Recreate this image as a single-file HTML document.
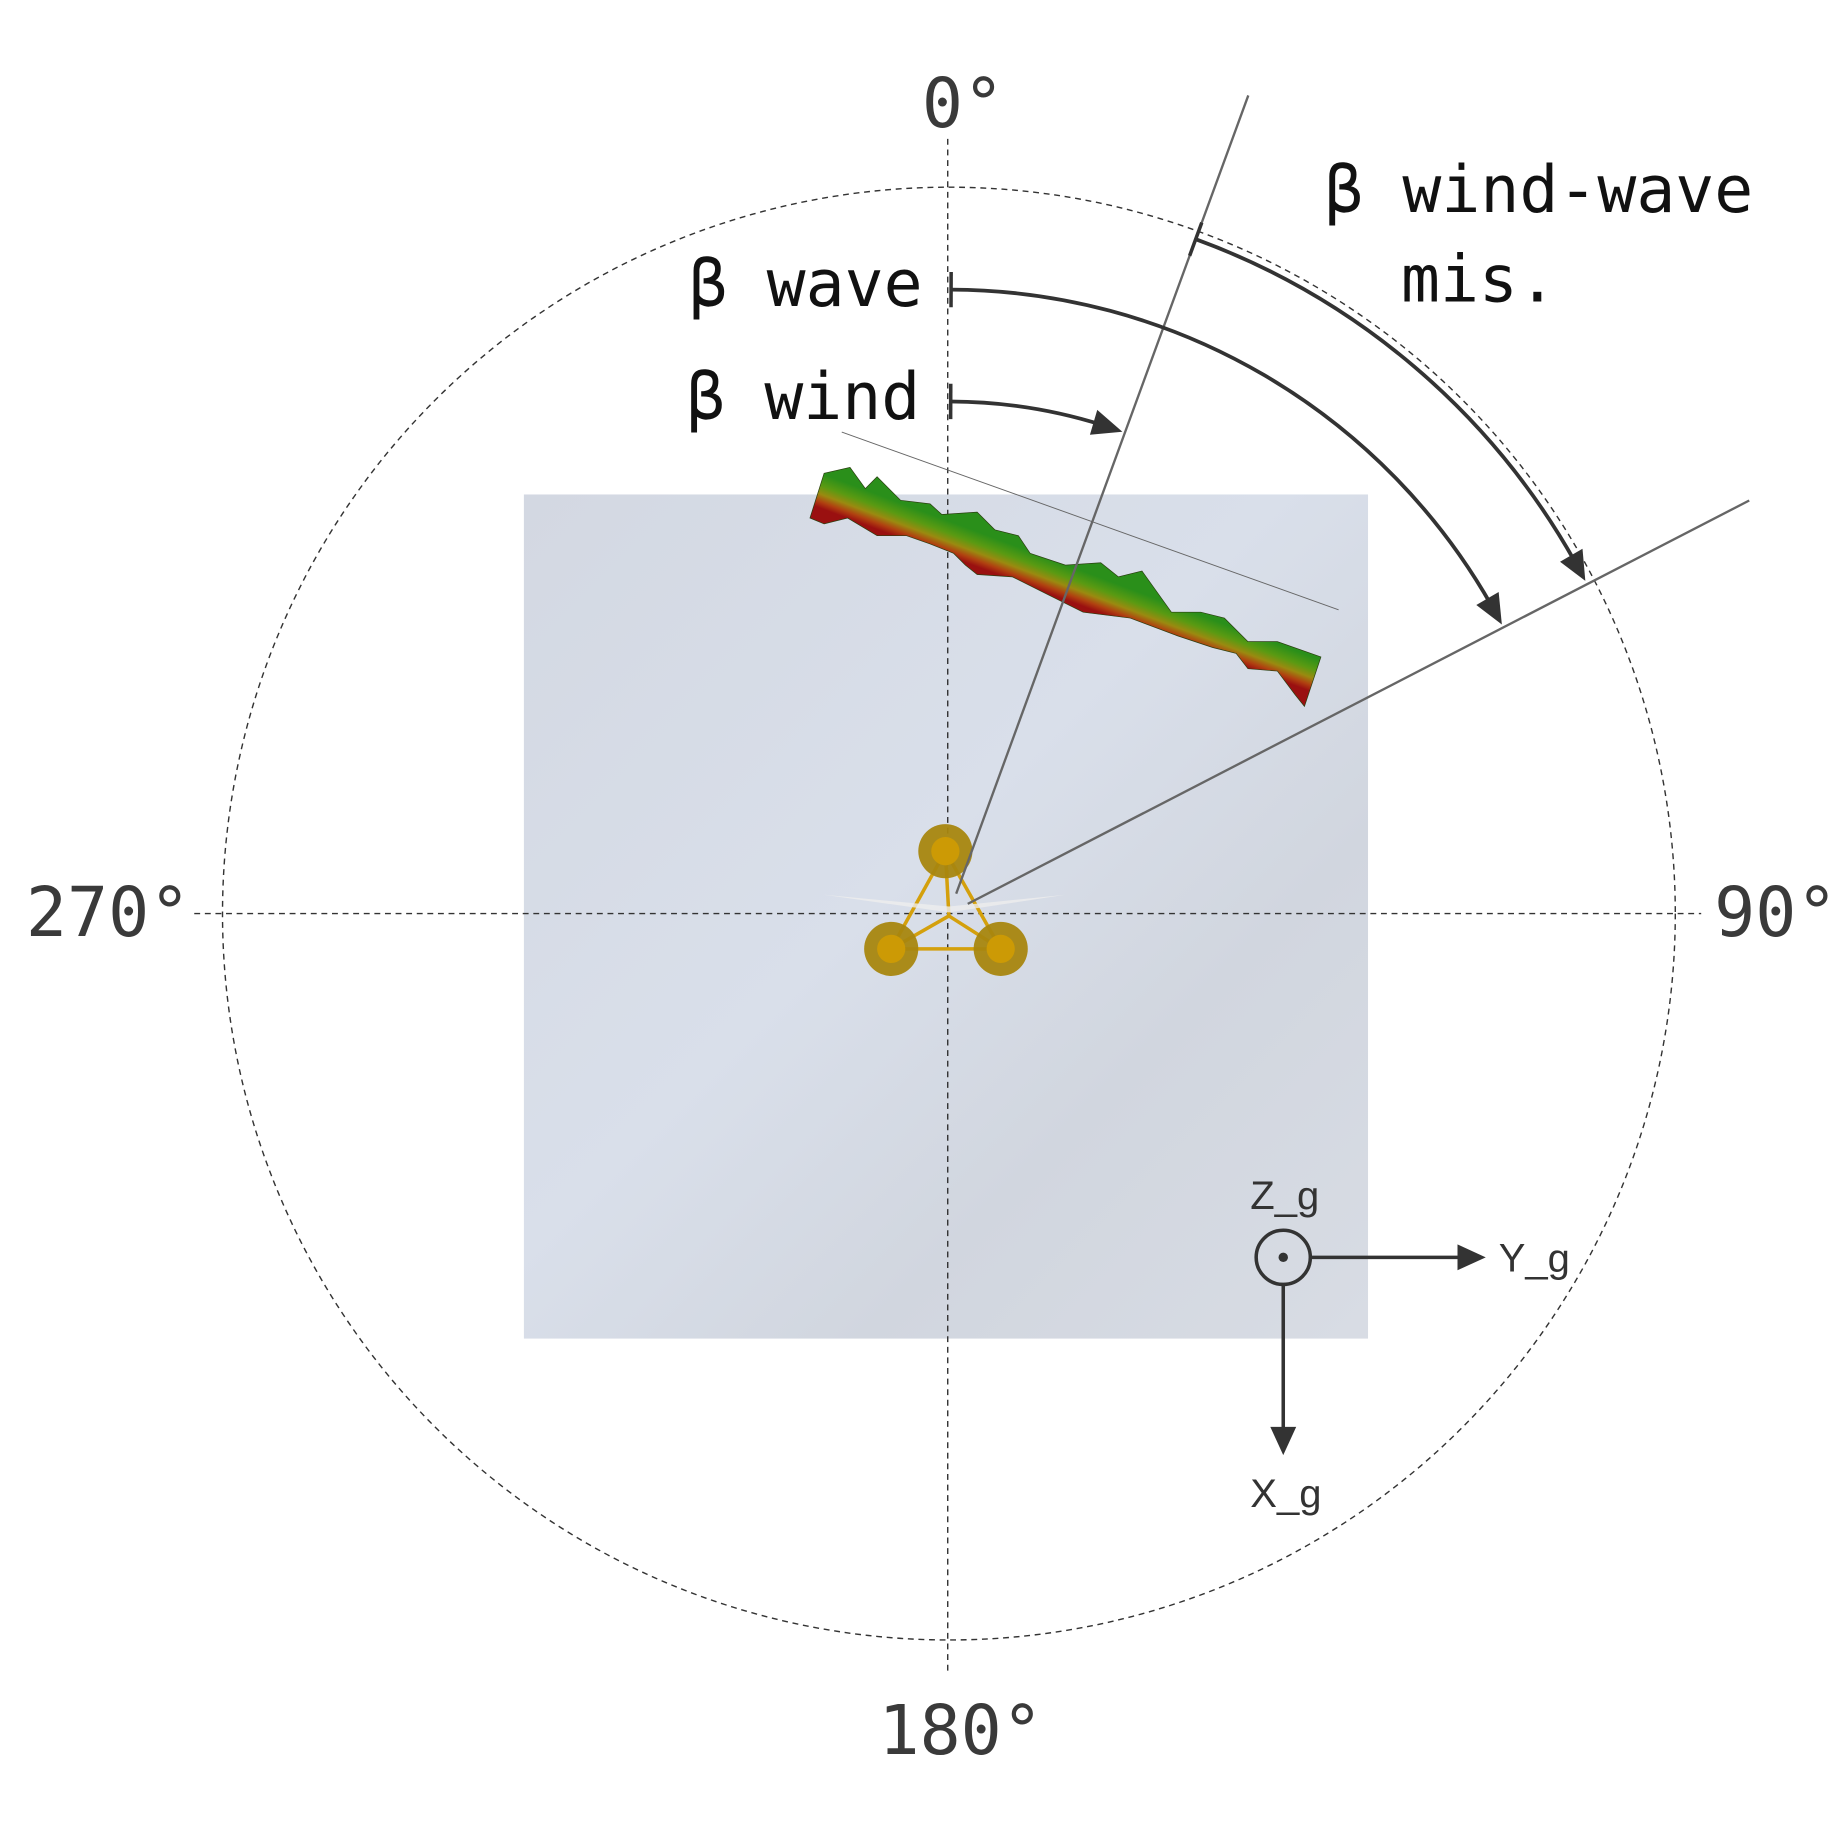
<!DOCTYPE html>
<html><head><meta charset="utf-8"><style>
html,body{margin:0;padding:0;background:#fff;}
svg{display:block;}
.lbl{font-family:"DejaVu Sans Mono","Liberation Mono",monospace;fill:#3a3a3a;font-size:58px;}
.blk{font-family:"DejaVu Sans Mono","Liberation Mono",monospace;fill:#111;font-size:55px;}
.ax{font-family:"Liberation Sans","DejaVu Sans",sans-serif;fill:#333;font-size:34px;}
</style></head><body>
<svg id="chart" width="1846" height="1846" viewBox="0 0 1568 1568" xmlns="http://www.w3.org/2000/svg">
<defs>
<linearGradient id="sea" x1="0" y1="0" x2="1" y2="1">
<stop offset="0" stop-color="#d3d8e2"/><stop offset="0.45" stop-color="#d9dfea"/><stop offset="0.7" stop-color="#d1d6df"/><stop offset="1" stop-color="#d8dce4"/>
</linearGradient>
<linearGradient id="mesh" gradientUnits="userSpaceOnUse" x1="700" y1="404" x2="700" y2="432" gradientTransform="rotate(20.5 700 420)">
<stop offset="0" stop-color="#2a8f1a"/><stop offset="0.35" stop-color="#5a9a12"/><stop offset="0.6" stop-color="#9a8a10"/><stop offset="0.82" stop-color="#b04010"/><stop offset="1" stop-color="#9a1010"/>
</linearGradient>
</defs>
<rect x="445" y="420" width="717" height="717" fill="url(#sea)"/>
<g id="grid"></g>
<polygon fill="url(#mesh)" stroke="#2a4010" stroke-width="0.6" points="688,440 700,402 722,397 735,415 745,405 765,425 790,428 800,437 830,435 845,450 865,455 875,470 905,480 935,478 950,490 970,485 995,520 1020,520 1040,525 1060,545 1085,545 1122,558 1108,600 1100,590 1085,570 1060,568 1050,555 1030,550 1000,540 960,525 920,520 890,505 860,490 830,488 820,480 810,470 790,462 770,455 745,455 720,440 700,445"/>
<line x1="715" y1="367" x2="1137" y2="518" stroke="#666" stroke-width="0.8"/>
<g id="turbine">
<g stroke="#d4a00c" stroke-width="3" fill="none">
<line x1="803" y1="723" x2="757" y2="806"/><line x1="803" y1="723" x2="850" y2="806"/><line x1="757" y1="806" x2="850" y2="806"/>
<line x1="757" y1="806" x2="806" y2="778"/><line x1="850" y1="806" x2="806" y2="778"/><line x1="803" y1="723" x2="806" y2="778"/>
</g>
<circle cx="803" cy="723" r="23" fill="#a8860f" opacity="0.95"/><circle cx="803" cy="723" r="12" fill="#cc9a05"/>
<circle cx="757" cy="806" r="23" fill="#a8860f" opacity="0.95"/><circle cx="757" cy="806" r="12" fill="#cc9a05"/>
<circle cx="850" cy="806" r="23" fill="#a8860f" opacity="0.95"/><circle cx="850" cy="806" r="12" fill="#cc9a05"/>
<polygon points="700,760 806,770 905,760 806,775" fill="#eeeeee" opacity="0.8"/>
</g>
<g id="dirs"></g>
<text class="lbl" x="818" y="108" text-anchor="middle">0°</text>
<text class="lbl" x="1456" y="795">90°</text>
<text class="lbl" x="816" y="1490" text-anchor="middle">180°</text>
<text class="lbl" x="22" y="795">270°</text>
<text class="blk" x="585" y="260">β wave</text>
<text class="blk" x="583" y="356">β wind</text>
<text class="blk" x="1125" y="180">β wind-wave</text>
<text class="blk" x="1190" y="256">mis.</text>
<g stroke="#333" stroke-width="3" fill="#333">
<circle cx="1090" cy="1068" r="23" fill="none"/><circle cx="1090" cy="1068" r="4" stroke="none"/>
<line x1="1113" y1="1068" x2="1240" y2="1068"/><polygon points="1262,1068 1238,1057 1238,1079" stroke="none"/>
<line x1="1090" y1="1091" x2="1090" y2="1213"/><polygon points="1090,1236 1079,1212 1101,1212" stroke="none"/>
</g>
<text class="ax" x="1062" y="1027">Z_g</text>
<text class="ax" x="1273" y="1080">Y_g</text>
<text class="ax" x="1062" y="1280">X_g</text>
</svg>
<script>
const windDirDeg = [20.1];
const waveDirDeg = [62.7];
const cx = 806, cy = 776, R = 617;
const NS = 'http://www.w3.org/2000/svg';
function pt(deg, r){const a = deg*Math.PI/180; return [cx + r*Math.sin(a), cy - r*Math.cos(a)];}
function mk(tag, attrs, parent){const e=document.createElementNS(NS,tag);for(const k in attrs)e.setAttribute(k,attrs[k]);parent.appendChild(e);return e;}
const grid = document.getElementById('grid');
let c = mk('circle',{cx:cx,cy:cy,r:R,fill:'none',stroke:'#333','stroke-width':1.2,'stroke-dasharray':'5,4'},grid);


let v = mk('line',{x1:805,y1:118,x2:805,y2:1420,stroke:'#333','stroke-width':1.2,'stroke-dasharray':'5,4'},grid);


let h = mk('line',{x1:165,y1:776,x2:1445,y2:776,stroke:'#333','stroke-width':1.2,'stroke-dasharray':'5,4'},grid);


const dirs = document.getElementById('dirs');
function dirLine(deg, len, name){const p0=pt(deg,18), p1=pt(deg,len);
 const l=mk('line',{x1:p0[0],y1:p0[1],x2:p1[0],y2:p1[1],stroke:'#666','stroke-width':2},dirs);
 
 }
dirLine(windDirDeg[0], 740, 'wind-direction-line');
dirLine(waveDirDeg[0], 765, 'wave-direction-line');
function arc(a0, a1, r, name){
 const g = mk('g',{},dirs);
 
 
 const endA = a1 - 1.5*180/Math.PI*14/r;
 const p0=pt(a0,r), p1=pt(endA,r);
 mk('path',{d:`M${p0[0]},${p0[1]} A${r},${r} 0 0 1 ${p1[0]},${p1[1]}`,fill:'none',stroke:'#333','stroke-width':3.2},g);
 const t0=pt(a0,r-15), t1=pt(a0,r+15);
 mk('line',{x1:t0[0],y1:t0[1],x2:t1[0],y2:t1[1],stroke:'#333','stroke-width':3},g);
 const tip=pt(a1-0.3,r); const back=a1-180/Math.PI*28/r;
 const b1=pt(back,r-11), b2=pt(back,r+11);
 mk('polygon',{points:`${tip[0]},${tip[1]} ${b1[0]},${b1[1]} ${b2[0]},${b2[1]}`,fill:'#333'},g);
}
arc(0.2, windDirDeg[0], 435, 'beta-wind-arc');
arc(0.2, waveDirDeg[0], 530, 'beta-wave-arc');
arc(windDirDeg[0], waveDirDeg[0], 610, 'misalignment-arc');
</script>
</body></html>
